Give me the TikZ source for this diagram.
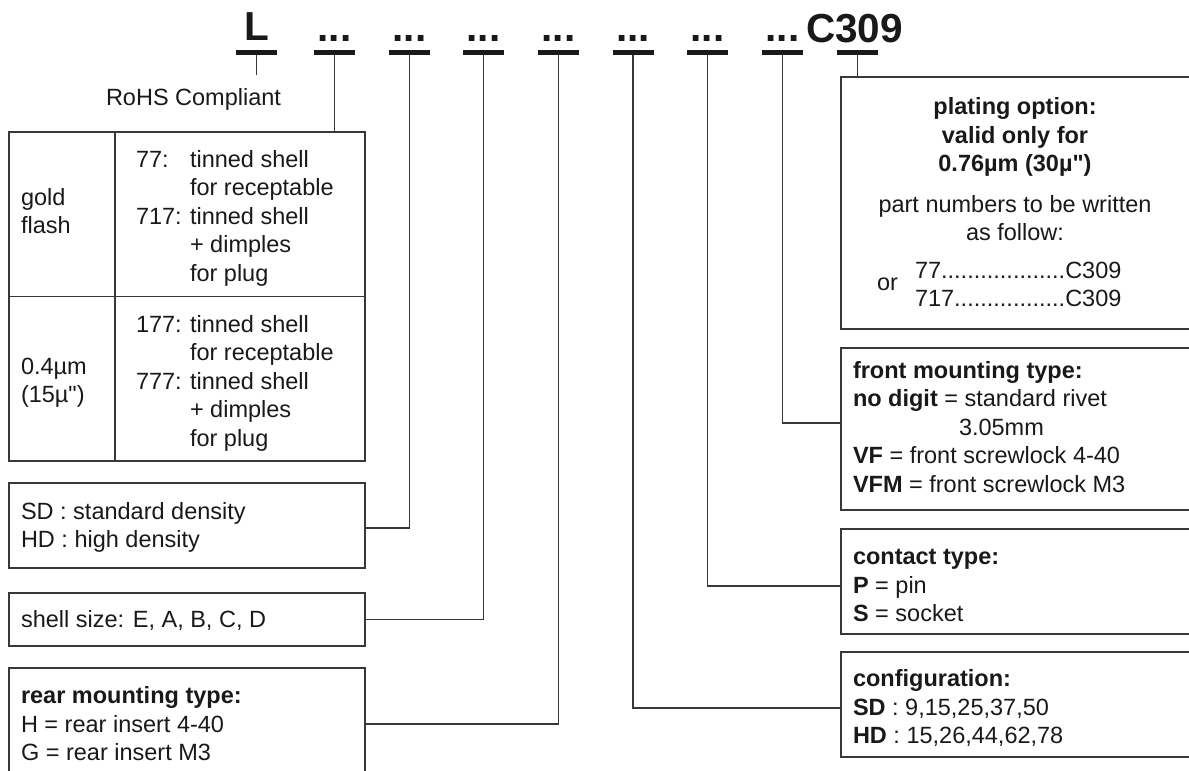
\documentclass[tikz,border=0pt]{standalone}
\usepackage{fontspec}
\setmainfont{Liberation Sans}
\definecolor{ln}{gray}{0.22}
\definecolor{txtc}{gray}{0.1}
\newcommand\mysz{\fontsize{23.5}{28.5}\selectfont}
\newcommand\myhd{\fontsize{40.5}{48}\selectfont\bfseries}
\begin{document}
\begin{tikzpicture}[x=1pt,y=-1pt,
  every node/.style={inner sep=0pt,outer sep=0pt,text=txtc},
  bar/.style={fill=txtc,minimum width=41pt,minimum height=5pt},
  box/.style={draw=ln,line width=1.4pt,anchor=north west},
  conn/.style={draw=ln,line width=1.2pt},
  tx/.style={anchor=base west,font=\mysz},
  txc/.style={anchor=base,font=\mysz},
  hd/.style={anchor=base,font=\myhd}]
\useasboundingbox (0,0) rectangle (1189,771);
\clip (0,0) rectangle (1189,771);

% header
\node[hd] (hL) at (256.5,40) {L};
\node[hd] (d2) at (334.5,41) {...};
\node[hd] (d3) at (409.5,41) {...};
\node[hd] (d4) at (483.5,41) {...};
\node[hd] (d5) at (558.5,41) {...};
\node[hd] (d6) at (633,41) {...};
\node[hd] (d7) at (707.5,41) {...};
\node[hd] (d8) at (782.5,41) {...};
\node[hd] (hC) at (854.5,42) {C309};

\node[bar] (b1) at (256.5,52.5) {};
\node[bar] (b2) at (334.5,52.5) {};
\node[bar] (b3) at (409.5,52.5) {};
\node[bar] (b4) at (483.5,52.5) {};
\node[bar] (b5) at (558.5,52.5) {};
\node[bar] (b6) at (633,52.5) {};
\node[bar] (b7) at (707.5,52.5) {};
\node[bar] (b8) at (782.5,52.5) {};
\node[bar] (b9) at (857.5,52.5) {};

% RoHS
\node[tx] (rohs) at (106,105) {RoHS Compliant};
\coordinate (rs) at (256.5,75);

% boxes left
\node[box,minimum width=356pt,minimum height=329pt] (gold) at (9,132) {};
\node[box,minimum width=356pt,minimum height=85pt] (sd) at (9,483) {};
\node[box,minimum width=356pt,minimum height=53pt] (shell) at (9,593) {};
\node[box,minimum width=356pt,minimum height=112pt] (rear) at (9,668) {};
% boxes right
\node[box,minimum width=360pt,minimum height=252pt] (plat) at (841,77) {};
\node[box,minimum width=360pt,minimum height=162pt] (front) at (841,348) {};
\node[box,minimum width=360pt,minimum height=105pt] (contact) at (841,529) {};
\node[box,minimum width=360pt,minimum height=105pt] (config) at (841,652) {};

% gold box inner lines
\draw[draw=ln,line width=1.4pt] ([xshift=106pt]gold.north west) -- ([xshift=106pt]gold.south west);
\draw[draw=ln,line width=1.4pt] (gold.west) -- (gold.east);

% connectors
\draw[conn] (b1.south) -- (rs);
\draw[conn] (b2.south) -- (b2.south |- gold.north);
\draw[conn] (b3.south) |- ([yshift=-2.5pt]sd.east);
\draw[conn] (b4.south) |- (shell.east);
\draw[conn] (b5.south) |- (rear.east);
\draw[conn] (b6.south) |- ([yshift=-3.5pt]config.west);
\draw[conn] (b7.south) |- ([yshift=-4.5pt]contact.west);
\draw[conn] (b8.south) |- ([yshift=6pt]front.west);
\draw[conn] (b9.south) -- (b9.south |- plat.north);

% gold box text
\node[tx] (g1) at (21,205) {gold};
\node[tx] (g2) at (21,233) {flash};
\node[tx] (g3) at (136,167) {77:};
\node[tx] (g4) at (190,167) {tinned shell};
\node[tx] (g5) at (190,195.5) {for receptable};
\node[tx] (g6) at (136,224) {717:};
\node[tx] (g7) at (190,224) {tinned shell};
\node[tx] (g8) at (190,252.5) {+ dimples};
\node[tx] (g9) at (190,281) {for plug};
\node[tx] (h1) at (21,374) {0.4µm};
\node[tx] (h2) at (21,402) {(15µ\textquotedbl)};
\node[tx] (h3) at (136,332) {177:};
\node[tx] (h4) at (190,332) {tinned shell};
\node[tx] (h5) at (190,360.5) {for receptable};
\node[tx] (h6) at (136,389) {777:};
\node[tx] (h7) at (190,389) {tinned shell};
\node[tx] (h8) at (190,417.5) {+ dimples};
\node[tx] (h9) at (190,446) {for plug};

% SD / shell / rear
\node[tx] (s1) at (21,519) {SD : standard density};
\node[tx] (s2) at (21,547.5) {HD : high density};
\node[tx] (s3) at (21,627) {shell size: E, A, B, C, D};
\node[tx] (r1) at (21,703.5) {\bfseries rear mounting type:};
\node[tx] (r2) at (21,732) {H = rear insert 4-40};
\node[tx] (r3) at (21,760.5) {G = rear insert M3};

% plating
\node[txc] (p1) at (1015,114.5) {\bfseries plating option:};
\node[txc] (p2) at (1015,143) {\bfseries valid only for};
\node[txc] (p3) at (1015,171.5) {\bfseries 0.76µm (30µ\textquotedbl)};
\node[txc] (p4) at (1015,212) {part numbers to be written};
\node[txc] (p5) at (1015,240.5) {as follow:};
\node[tx] (p6) at (915,278) {77...................C309};
\node[tx] (p7) at (915,306.5) {717.................C309};
\node[tx] (p8) at (877,290) {or};

% front
\node[tx] (f1) at (853,378) {\bfseries front mounting type:};
\node[tx] (f2) at (853,406.5) {\textbf{no digit} = standard rivet};
\node[tx] (f3) at (959,435) {3.05mm};
\node[tx] (f4) at (853,463.5) {\textbf{VF} = front screwlock 4-40};
\node[tx] (f5) at (853,492) {\textbf{VFM} = front screwlock M3};
% contact
\node[tx] (c1) at (853,564.5) {\bfseries contact type:};
\node[tx] (c2) at (853,593) {\textbf{P} = pin};
\node[tx] (c3) at (853,621.5) {\textbf{S} = socket};
% config
\node[tx] (k1) at (853,686.5) {\bfseries configuration:};
\node[tx] (k2) at (853,715) {\textbf{SD} : 9,15,25,37,50};
\node[tx] (k3) at (853,743.5) {\textbf{HD} : 15,26,44,62,78};
\end{tikzpicture}
\end{document}
